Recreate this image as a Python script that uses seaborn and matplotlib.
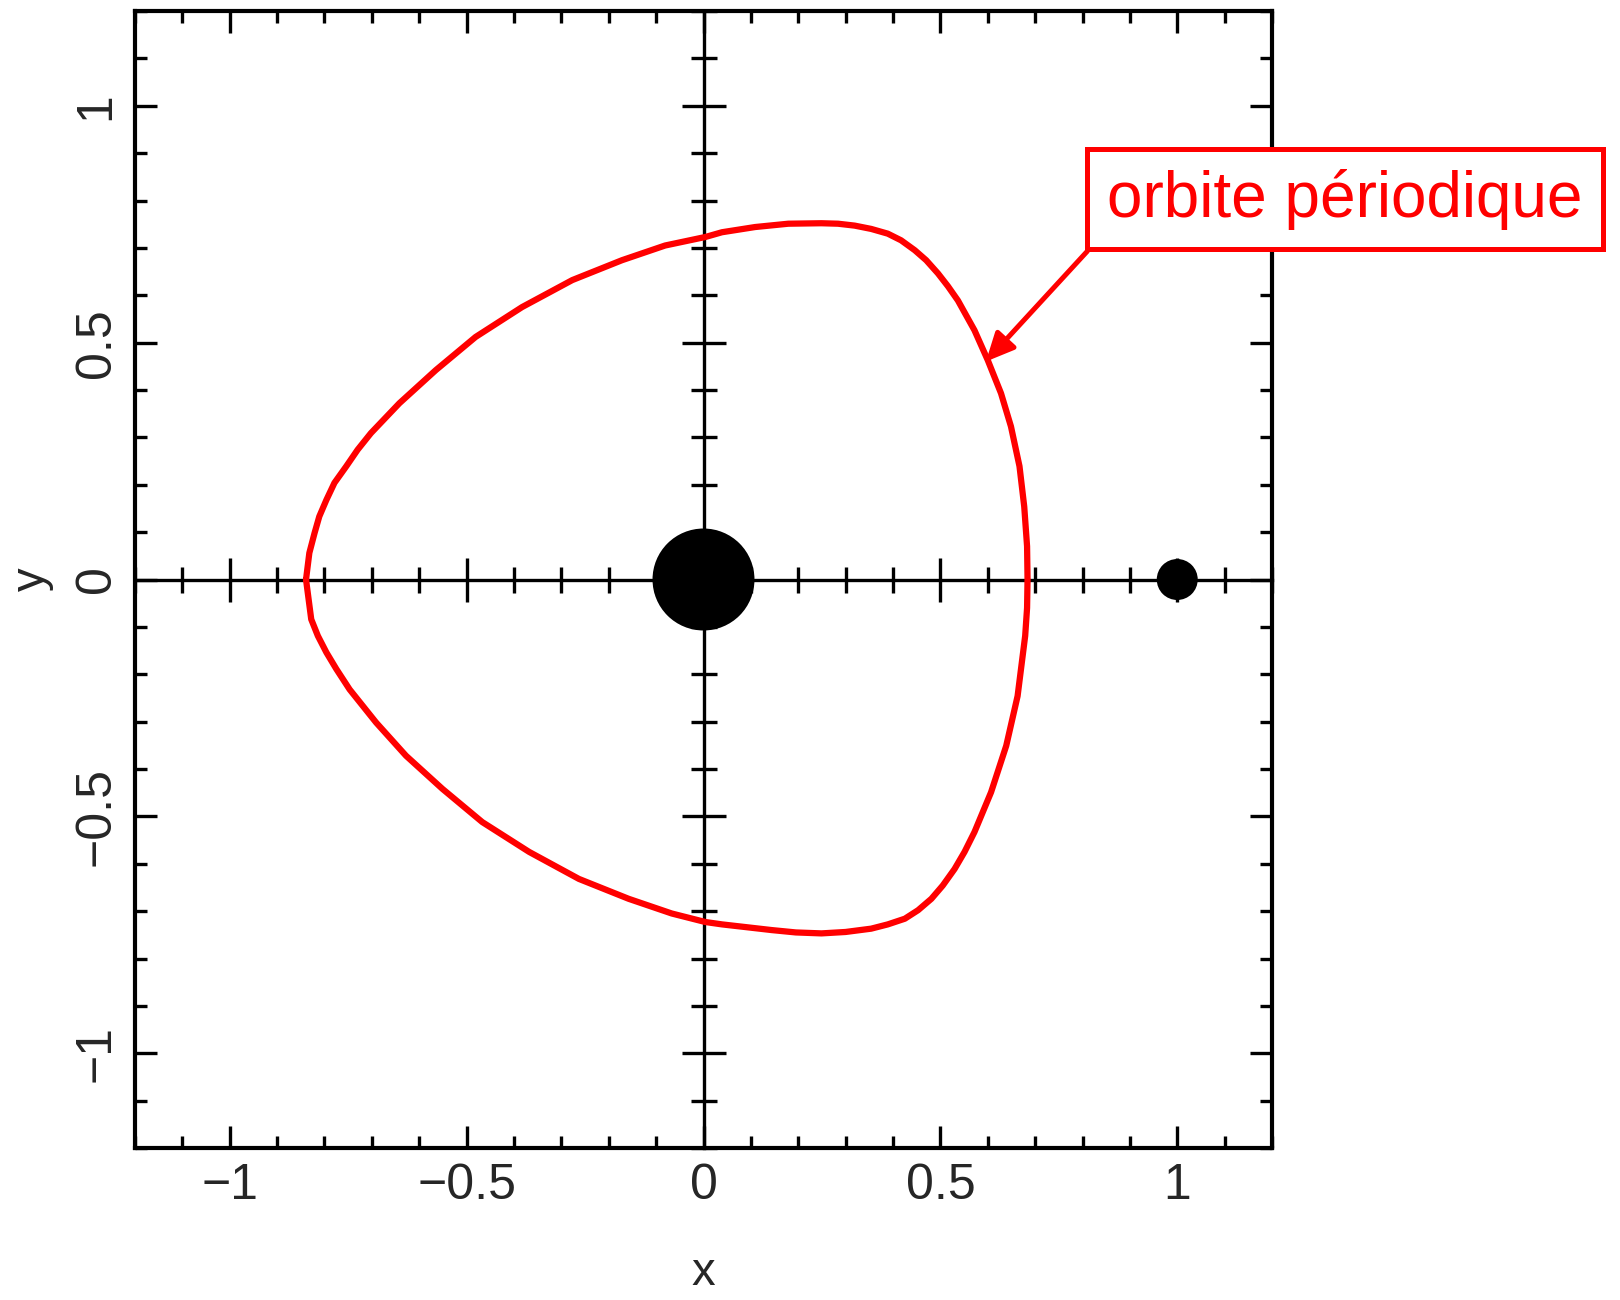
import matplotlib
matplotlib.use("Agg")
import matplotlib.pyplot as plt
from matplotlib.ticker import MultipleLocator
import seaborn as sns

# Periodic orbit in the rotating frame (closed loop, clockwise from the left tip)
orbit_x = [-0.839, -0.832, -0.821, -0.811, -0.796, -0.779, -0.754, -0.730, -0.702,
           -0.642, -0.565, -0.481, -0.383, -0.277, -0.172, -0.081, 0.004, 0.039,
           0.109, 0.179, 0.249, 0.284, 0.319, 0.354, 0.389, 0.417, 0.446, 0.470,
           0.495, 0.516, 0.537, 0.572, 0.600, 0.628, 0.649, 0.667, 0.677, 0.683,
           0.684, 0.683, 0.679, 0.663, 0.639, 0.607, 0.572, 0.551, 0.530, 0.505,
           0.481, 0.453, 0.425, 0.389, 0.354, 0.300, 0.249, 0.195, 0.144, 0.039,
           0.004, -0.067, -0.158, -0.263, -0.368, -0.467, -0.551, -0.628, -0.691,
           -0.719, -0.747, -0.775, -0.796, -0.814, -0.828, -0.839]
orbit_y = [0.000, 0.056, 0.098, 0.133, 0.168, 0.204, 0.239, 0.274, 0.309,
           0.372, 0.442, 0.512, 0.575, 0.632, 0.674, 0.705, 0.723, 0.733,
           0.744, 0.751, 0.752, 0.751, 0.747, 0.740, 0.730, 0.716, 0.695, 0.674,
           0.646, 0.619, 0.589, 0.526, 0.463, 0.393, 0.323, 0.239, 0.154, 0.070,
           0.000, -0.060, -0.119, -0.246, -0.351, -0.449, -0.533, -0.575, -0.611,
           -0.646, -0.674, -0.698, -0.716, -0.728, -0.737, -0.744, -0.747, -0.745,
           -0.740, -0.728, -0.723, -0.705, -0.674, -0.632, -0.575, -0.512, -0.442,
           -0.372, -0.302, -0.267, -0.232, -0.189, -0.154, -0.119, -0.084, 0.000]

# The two massive bodies on the x axis
body_x = [0.0, 1.0]
body_y = [0.0, 0.0]

tick_values = [-1, -0.5, 0, 0.5, 1]
tick_labels = ["\u22121", "\u22120.5", "0", "0.5", "1"]
annotation_text = "orbite périodique"
arrow_tip = (0.596, 0.46)
label_center = (1.354, 0.803)

# marker areas (pt^2) for the large and small body
body_marker_areas = [5390, 870]

sns.set_style("ticks")
plt.rcParams["font.family"] = ["Liberation Sans", "DejaVu Sans"]

fig = plt.figure(figsize=(16.2, 13), dpi=100)
rect = [135 / 1620, 152 / 1300, 1137 / 1620, 1137 / 1300]

# Framed axes carrying the tick labels
ax = fig.add_axes(rect)
ax.set_xlim(-1.2, 1.2)
ax.set_ylim(-1.2, 1.2)
for sp in ax.spines.values():
    sp.set_visible(True)
    sp.set_linewidth(3.0)
    sp.set_color("black")
ax.set_xticks(tick_values, tick_labels)
ax.set_yticks(tick_values, tick_labels)
ax.xaxis.set_minor_locator(MultipleLocator(0.1))
ax.yaxis.set_minor_locator(MultipleLocator(0.1))
ax.tick_params(which="both", direction="in", top=True, right=True,
               width=2.4, color="black")
ax.tick_params(which="major", length=15.8, labelsize=36, pad=11)
ax.tick_params(which="minor", length=8.6)
ax.tick_params(axis="y", labelrotation=90)
for lab in ax.get_yticklabels():
    lab.set_va("center")
ax.set_xlabel("x", fontsize=34, labelpad=30)
ax.set_ylabel("y", fontsize=34, labelpad=14)

# Overlay axes: axis lines through the origin, the orbit and the bodies
ax2 = fig.add_axes(rect)
ax2.patch.set_visible(False)
ax2.set_xlim(-1.2, 1.2)
ax2.set_ylim(-1.2, 1.2)
ax2.spines["left"].set_position(("data", 0))
ax2.spines["bottom"].set_position(("data", 0))
ax2.spines["top"].set_visible(False)
ax2.spines["right"].set_visible(False)
for side in ("left", "bottom"):
    ax2.spines[side].set_linewidth(2.4)
    ax2.spines[side].set_color("black")
ax2.set_xticks(tick_values)
ax2.set_yticks(tick_values)
ax2.xaxis.set_minor_locator(MultipleLocator(0.1))
ax2.yaxis.set_minor_locator(MultipleLocator(0.1))
ax2.tick_params(which="both", direction="inout", labelbottom=False, labelleft=False,
                width=2.4, color="black")
ax2.tick_params(which="major", length=31.7)
ax2.tick_params(which="minor", length=18.7)

sns.lineplot(x=orbit_x, y=orbit_y, sort=False, estimator=None, color="#ff0000",
             linewidth=4.5, ax=ax2, zorder=3, solid_joinstyle="round",
             solid_capstyle="round")
sns.scatterplot(x=body_x, y=body_y, s=body_marker_areas, color="black",
                edgecolor="none", ax=ax2, zorder=4)
ax2.set_xlabel("")
ax2.set_ylabel("")
ax2.set_xlim(-1.2, 1.2)
ax2.set_ylim(-1.2, 1.2)

ax2.annotate(annotation_text, xy=arrow_tip, xytext=label_center,
             textcoords="data", ha="center", va="center", fontsize=46,
             color="#ff0000",
             bbox=dict(boxstyle="square,pad=0.31", fc="white", ec="#ff0000", lw=3.6),
             arrowprops=dict(arrowstyle="-|>,head_length=0.85,head_width=0.4",
                             mutation_scale=20, color="#ff0000", lw=3.6,
                             relpos=(0, 0), shrinkA=0, shrinkB=0),
             annotation_clip=False, zorder=10)

fig.savefig("out.png", dpi=100)
